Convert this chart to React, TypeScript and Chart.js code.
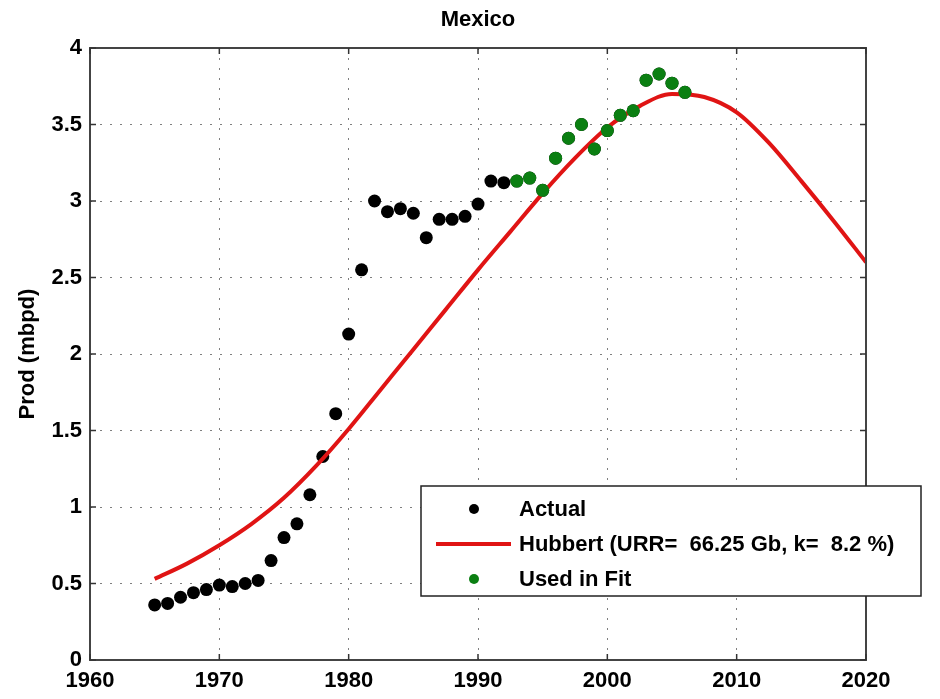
import React, { useEffect, useRef } from 'react';
import { Chart, registerables } from 'chart.js';

Chart.register(...registerables);

const chartTitle = 'Mexico';
const yAxisTitle = 'Prod (mbpd)';

const actualYears = [
  1965, 1966, 1967, 1968, 1969, 1970, 1971, 1972, 1973, 1974, 1975, 1976, 1977, 1978,
  1979, 1980, 1981, 1982, 1983, 1984, 1985, 1986, 1987, 1988, 1989, 1990, 1991, 1992,
  1993, 1994, 1995, 1996, 1997, 1998, 1999, 2000, 2001, 2002, 2003, 2004, 2005, 2006,
];
const actualProd = [
  0.36, 0.37, 0.41, 0.44, 0.46, 0.49, 0.48, 0.5, 0.52, 0.65, 0.8, 0.89, 1.08, 1.33,
  1.61, 2.13, 2.55, 3.0, 2.93, 2.95, 2.92, 2.76, 2.88, 2.88, 2.9, 2.98, 3.13, 3.12,
  3.13, 3.15, 3.07, 3.28, 3.41, 3.5, 3.34, 3.46, 3.56, 3.59, 3.79, 3.83, 3.77, 3.71,
];

const fitYears = [1993, 1994, 1995, 1996, 1997, 1998, 1999, 2000, 2001, 2002, 2003, 2004, 2005, 2006];
const fitProd = [3.13, 3.15, 3.07, 3.28, 3.41, 3.5, 3.34, 3.46, 3.56, 3.59, 3.79, 3.83, 3.77, 3.71];

const hubbertYears = [
  1965, 1967.5, 1970, 1972.5, 1975, 1977.5, 1980, 1982.5, 1985, 1987.5, 1990, 1992.5,
  1995, 1997.5, 2000, 2002.5, 2005, 2007.5, 2010, 2012.5, 2015, 2017.5, 2020,
];
const hubbertProd = [
  0.53, 0.63, 0.75, 0.89, 1.06, 1.27, 1.51, 1.77, 2.03, 2.29, 2.55, 2.8,
  3.05, 3.28, 3.48, 3.62, 3.7, 3.68, 3.58, 3.38, 3.13, 2.87, 2.6,
];

const xTicks = [1960, 1970, 1980, 1990, 2000, 2010, 2020];
const yTicks = [0, 0.5, 1, 1.5, 2, 2.5, 3, 3.5, 4];

const legendLabels = ['Actual', 'Hubbert (URR=  66.25 Gb, k=  8.2 %)', 'Used in Fit'];

const FONT = "'Liberation Sans', Arial, sans-serif";
const BLACK_DOT = '#000000';
const RED_LINE = '#e01414';
const GREEN_DOT = '#0b7f12';
const GRID = 'rgba(0,0,0,0.5)';

const toPoints = (xs: number[], ys: number[]) => xs.map((x, i) => ({ x, y: ys[i] }));

const framePlugin = {
  id: 'matlabFrame',
  afterDraw(chart: any) {
    const { ctx, chartArea } = chart;
    const { left, right, top, bottom } = chartArea;
    const xs = chart.scales.x;
    const ys = chart.scales.y;
    ctx.save();
    ctx.strokeStyle = '#444';
    ctx.lineWidth = 2;
    ctx.setLineDash([]);
    ctx.strokeRect(left, top, right - left, bottom - top);
    ctx.lineWidth = 1.5;
    ctx.strokeStyle = '#333';
    const tl = 6;
    xTicks.forEach((v) => {
      const px = xs.getPixelForValue(v);
      ctx.beginPath();
      ctx.moveTo(px, bottom);
      ctx.lineTo(px, bottom - tl);
      ctx.moveTo(px, top);
      ctx.lineTo(px, top + tl);
      ctx.stroke();
    });
    yTicks.forEach((v) => {
      const py = ys.getPixelForValue(v);
      ctx.beginPath();
      ctx.moveTo(left, py);
      ctx.lineTo(left + tl, py);
      ctx.moveTo(right, py);
      ctx.lineTo(right - tl, py);
      ctx.stroke();
    });
    ctx.fillStyle = '#000';
    ctx.font = `bold 22px ${FONT}`;
    ctx.textAlign = 'center';
    ctx.textBaseline = 'middle';
    ctx.fillText(chartTitle, (left + right) / 2, 20);

    const lx = 421;
    const ly = 486;
    const lw = 500;
    const lh = 110;
    ctx.fillStyle = '#fff';
    ctx.fillRect(lx, ly, lw, lh);
    ctx.strokeStyle = '#222';
    ctx.lineWidth = 1.5;
    ctx.strokeRect(lx, ly, lw, lh);
    const rows = [ly + 23, ly + 58, ly + 93];
    const markerX = 474;
    const textX = 519;
    const ds = chart.data.datasets;
    ctx.font = `bold 22px ${FONT}`;
    ctx.textAlign = 'left';
    ctx.textBaseline = 'middle';
    ds.forEach((d: any, i: number) => {
      const y = rows[i];
      if (d.showLine) {
        ctx.strokeStyle = d.borderColor;
        ctx.lineWidth = d.borderWidth;
        ctx.beginPath();
        ctx.moveTo(436, y);
        ctx.lineTo(511, y);
        ctx.stroke();
      } else {
        ctx.fillStyle = d.backgroundColor;
        ctx.beginPath();
        ctx.arc(markerX, y, 5, 0, Math.PI * 2);
        ctx.fill();
      }
      ctx.fillStyle = '#000';
      ctx.fillText(d.label, textX, y + 1);
    });
    ctx.restore();
  },
};

export default function App() {
  const canvasRef = useRef<HTMLCanvasElement | null>(null);

  useEffect(() => {
    const canvas = canvasRef.current;
    if (!canvas) return;
    const tickFont = { family: FONT, size: 22, weight: 'bold' as const };
    const chart = new Chart(canvas, {
      type: 'scatter',
      data: {
        datasets: [
          {
            label: legendLabels[0],
            data: toPoints(actualYears, actualProd),
            backgroundColor: BLACK_DOT,
            borderColor: BLACK_DOT,
            pointRadius: 6.5,
            pointBorderWidth: 0,
            showLine: false,
            order: 3,
          },
          {
            label: legendLabels[1],
            data: toPoints(hubbertYears, hubbertProd),
            borderColor: RED_LINE,
            backgroundColor: RED_LINE,
            borderWidth: 4,
            pointRadius: 0,
            showLine: true,
            cubicInterpolationMode: 'monotone',
            order: 2,
          },
          {
            label: legendLabels[2],
            data: toPoints(fitYears, fitProd),
            backgroundColor: GREEN_DOT,
            borderColor: GREEN_DOT,
            pointRadius: 6.5,
            pointBorderWidth: 0,
            showLine: false,
            order: 1,
          },
        ],
      },
      options: {
        responsive: false,
        animation: false,
        events: [],
        layout: { padding: { left: 0, right: 74, top: 48, bottom: 0 } },
        plugins: {
          legend: { display: false },
          title: { display: false },
          tooltip: { enabled: false },
        },
        scales: {
          x: {
            type: 'linear',
            min: 1960,
            max: 2020,
            afterBuildTicks: (s: any) => {
              s.ticks = xTicks.map((v) => ({ value: v }));
            },
            afterFit: (s: any) => {
              s.height = 39;
            },
            ticks: {
              font: tickFont,
              color: '#000',
              padding: 8,
              maxRotation: 0,
              autoSkip: false,
              callback: (v: any) => String(v),
            },
            grid: { color: GRID, lineWidth: 1, drawTicks: false, borderDash: [2, 8] } as any,
            border: { display: false, dash: [2, 8] },
          },
          y: {
            type: 'linear',
            min: 0,
            max: 4,
            afterBuildTicks: (s: any) => {
              s.ticks = yTicks.map((v) => ({ value: v }));
            },
            afterFit: (s: any) => {
              s.width = 90;
            },
            ticks: {
              font: tickFont,
              color: '#000',
              padding: 8,
              autoSkip: false,
              callback: (v: any) => String(v),
            },
            title: {
              display: true,
              text: yAxisTitle,
              font: { family: FONT, size: 22, weight: 'bold' },
              color: '#000',
              padding: { top: 15, bottom: 0 },
            },
            grid: { color: GRID, lineWidth: 1, drawTicks: false, borderDash: [2, 8] } as any,
            border: { display: false, dash: [2, 8] },
          },
        },
      } as any,
      plugins: [framePlugin],
    });
    return () => chart.destroy();
  }, []);

  return (
    <div style={{ position: 'absolute', left: 0, top: 0, width: 940, height: 699, background: '#fff' }}>
      <canvas ref={canvasRef} width={940} height={699} style={{ width: 940, height: 699, display: 'block' }} />
    </div>
  );
}
